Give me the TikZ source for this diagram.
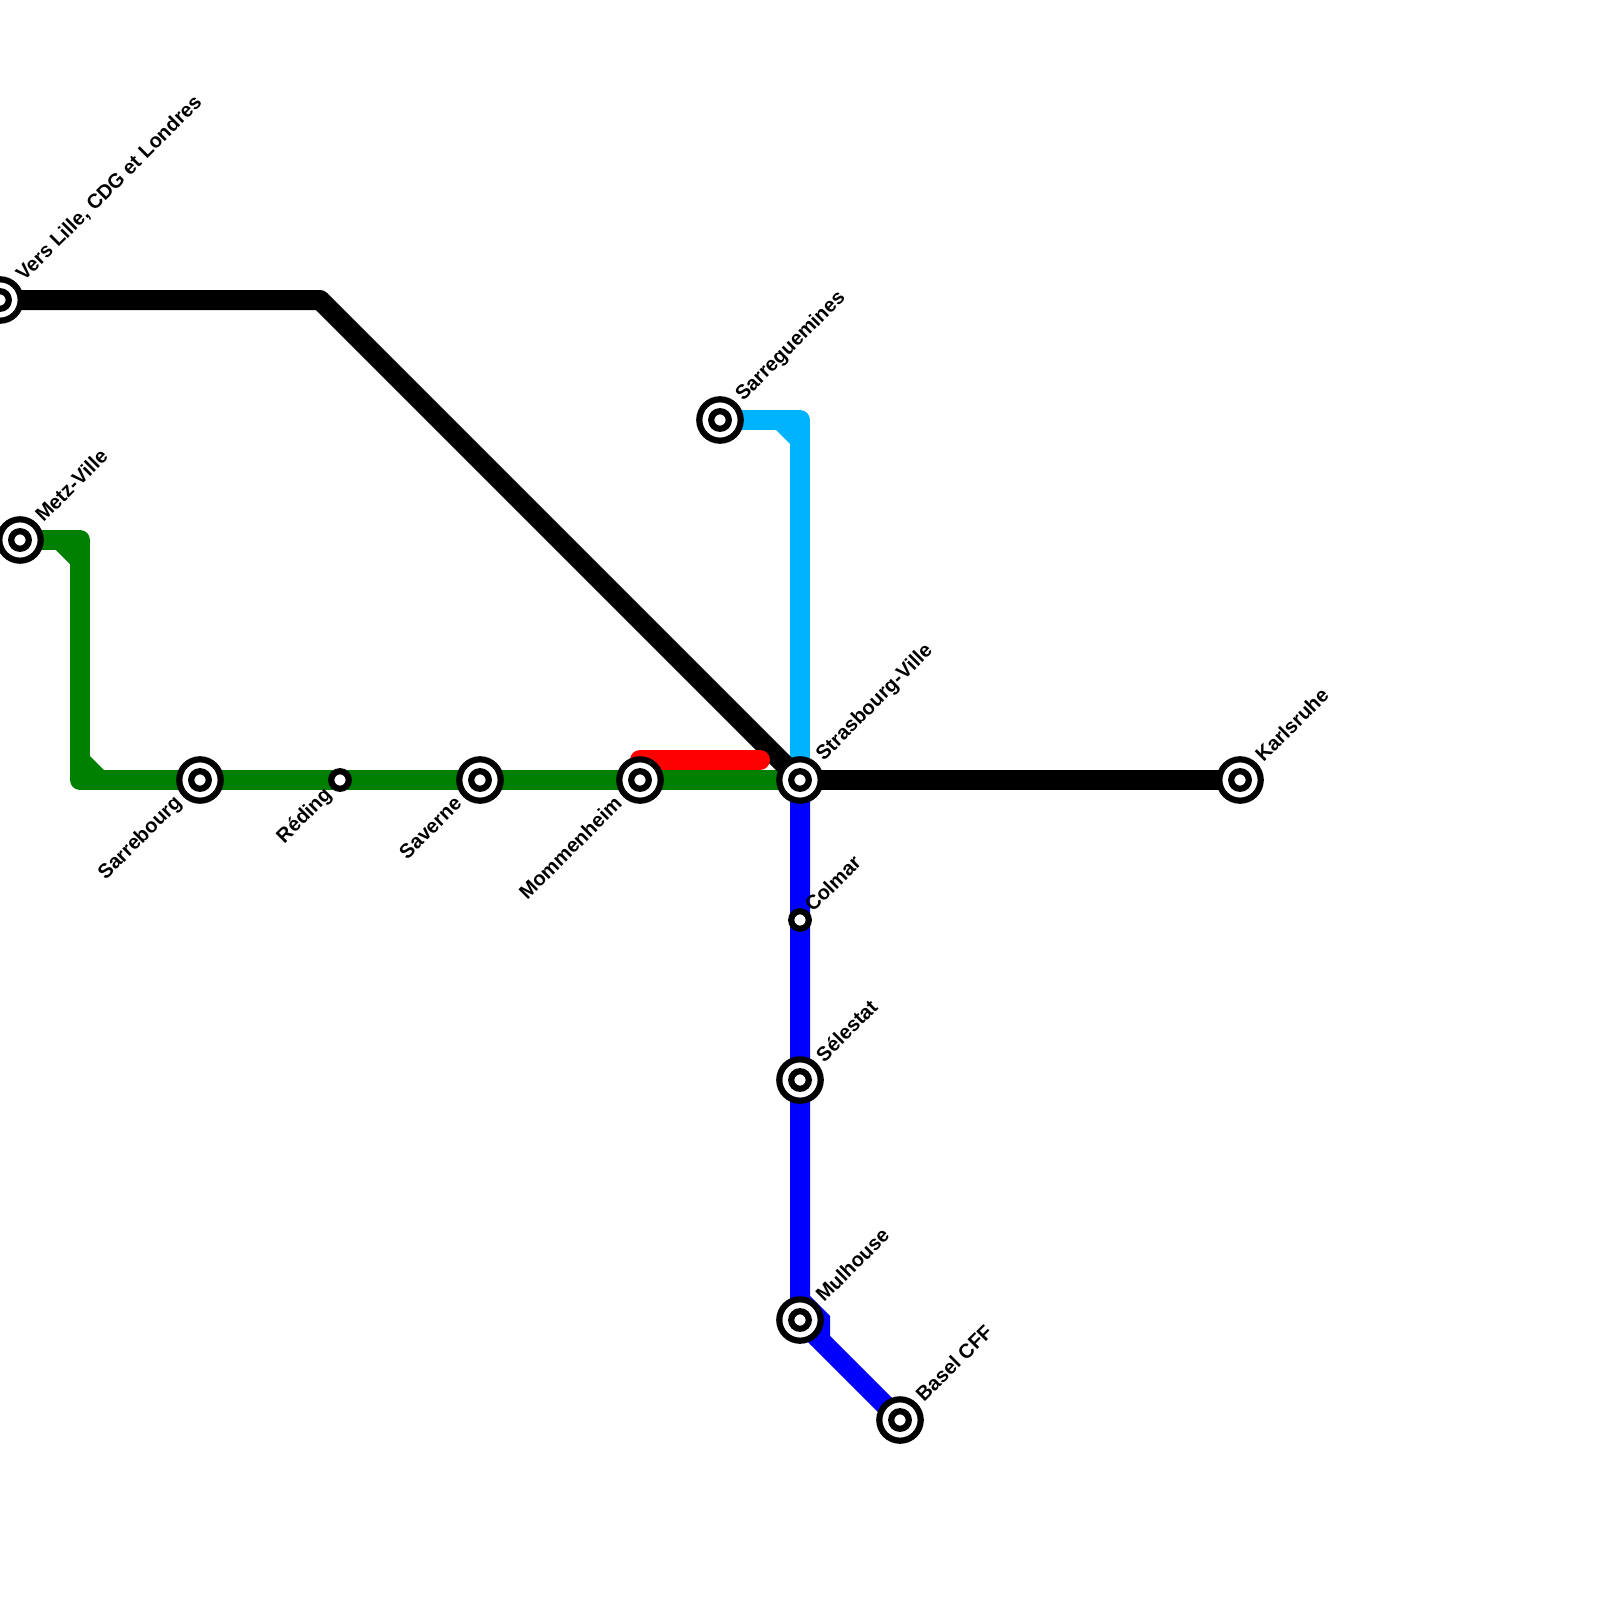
\documentclass[tikz,border=0pt]{standalone}
\usepackage{fontspec}
\setmainfont{Liberation Sans}
\tikzset{
  track/.style={line width=20pt,line join=miter,line cap=butt},
  rtrack/.style={line width=20pt,line join=round,line cap=round},
  stnbig/.pic={\draw[line width=6.2pt,fill=white] (0,0) circle (20.7pt);
               \draw[line width=6.2pt,fill=white] (0,0) circle (8.8pt);},
  stnsmall/.pic={\draw[line width=6.2pt,fill=white] (0,0) circle (8.8pt);},
  labr/.style={rotate=45,anchor=west,inner sep=0pt,font=\fontsize{20.1}{22}\selectfont\bfseries},
  labl/.style={rotate=45,anchor=east,inner sep=0pt,font=\fontsize{20.1}{22}\selectfont\bfseries},
}
\definecolor{lgreen}{RGB}{0,128,0}
\definecolor{lcyan}{RGB}{0,179,255}
\definecolor{lblue}{RGB}{0,0,255}
\begin{document}
\begin{tikzpicture}[x=1pt,y=-1pt]
\useasboundingbox (0,0) rectangle (1600,1600);
\coordinate (lille) at (0,300);
\coordinate (metz) at (20,540);
\coordinate (sarrebourg) at (200,780);
\coordinate (reding) at (340,780);
\coordinate (saverne) at (480,780);
\coordinate (momm) at (640,780);
\coordinate (stras) at (800,780);
\coordinate (karls) at (1240,780);
\coordinate (sarreg) at (720,420);
\coordinate (colmar) at (800,920);
\coordinate (selestat) at (800,1080);
\coordinate (mulh) at (800,1320);
\coordinate (basel) at (900,1420);
\coordinate (bend1) at (320,300);
\coordinate (c1) at (800,420);
\coordinate (g1) at (80,540);
\coordinate (g2) at (80,780);
\coordinate (b1) at (800,1300);
\coordinate (b2) at (820,1320);
\coordinate (b3) at (820,1340);
\coordinate (redend) at (760,760);
\coordinate (redstart) at (640,760);
% cyan
\draw[rtrack,lcyan,line cap=butt] (sarreg) -- (c1) -- (stras);
\fill[lcyan] (776,430) -- (790,430) -- (790,444) -- cycle;
% green
\draw[rtrack,lgreen,line cap=butt] (metz) -- (g1) -- (g2) -- (stras);
\fill[lgreen] (56,550) -- (70,550) -- (70,564) -- cycle;
\fill[lgreen] (90,756) -- (90,770) -- (104,770) -- cycle;
% blue
\draw[track,lblue] (stras) -- (b1) -- (b2) -- (b3) -- (basel);
\fill[lblue] (811,1345) -- (800,1334) -- (811,1320) -- cycle;
% black
\draw[rtrack,black,line cap=butt] (lille) -- (bend1) -- (stras);
\draw[track,black] (stras) -- (karls);
% red
\draw[rtrack,red] (redstart) -- (redend);
% stations
\foreach \s in {lille,metz,sarrebourg,saverne,momm,stras,karls,sarreg,selestat,mulh,basel}
  \pic at (\s) {stnbig};
\foreach \s in {reding,colmar}
  \pic at (\s) {stnsmall};
% labels
\node[labr] (tlille) at ([shift={(20,-22)}]lille) {Vers Lille, CDG et Londres};
\node[labr] (tmetz) at ([shift={(18.5,-22)}]metz) {Metz-Ville};
\node[labr] (tsarreg) at ([shift={(19.5,-22)}]sarreg) {Sarreguemines};
\node[labr] (tstras) at ([shift={(20,-22)}]stras) {Strasbourg-Ville};
\node[labr] (tkarls) at ([shift={(18.5,-22)}]karls) {Karlsruhe};
\node[labr] (tcolmar) at ([shift={(8,-12)}]colmar) {Colmar};
\node[labr] (tsel) at ([shift={(19,-22)}]selestat) {Sélestat};
\node[labr] (tmulh) at ([shift={(19,-22)}]mulh) {Mulhouse};
\node[labr] (tbasel) at ([shift={(19,-22)}]basel) {Basel CFF};
\node[labl] (tsarrb) at ([shift={(-21,20)}]sarrebourg) {Sarrebourg};
\node[labl] (tred) at ([shift={(-11,12)}]reding) {Réding};
\node[labl] (tsav) at ([shift={(-22,20)}]saverne) {Saverne};
\node[labl] (tmom) at ([shift={(-22,20)}]momm) {Mommenheim};
\end{tikzpicture}
\end{document}
